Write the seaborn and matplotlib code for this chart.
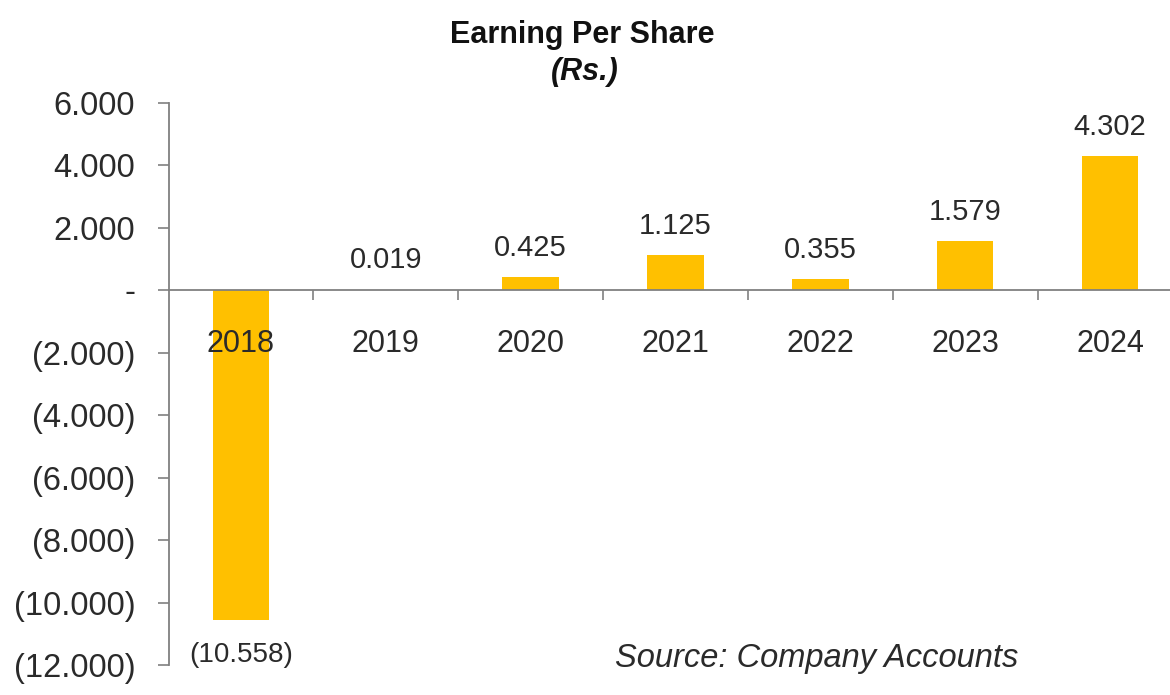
import matplotlib
matplotlib.use("Agg")
import matplotlib.pyplot as plt
import seaborn as sns
import pandas as pd
from matplotlib.ticker import FixedLocator, FuncFormatter

years = ["2018", "2019", "2020", "2021", "2022", "2023", "2024"]
eps = [-10.558, 0.019, 0.425, 1.125, 0.355, 1.579, 4.302]
yticks = [6, 4, 2, 0, -2, -4, -6, -8, -10, -12]

sns.set_theme(style="white")
plt.rcParams['font.family'] = ['Liberation Sans', 'DejaVu Sans']

df = pd.DataFrame({"year": years, "eps": eps})

fig = plt.figure(figsize=(11.7, 6.95), dpi=100)
ax = fig.add_axes([168.5/1170, 1-665/695, 1014/1170, (665-103)/695])

bar_color = "#FFC000"
sns.barplot(data=df, x="year", y="eps", color=bar_color, width=0.39,
            saturation=1, ax=ax, edgecolor="none")
ax.set_axisbelow(False)

ax.set_ylim(-12, 6)
ax.set_xlim(-0.5, 6.5)
ax.set_xlabel("")
ax.set_ylabel("")

def fmt(v, pos=None):
    if abs(v) < 1e-9:
        return "-"
    if v < 0:
        return f"({abs(v):.3f})"
    return f"{v:.3f}"

ax.yaxis.set_major_locator(FixedLocator(yticks))
ax.yaxis.set_major_formatter(FuncFormatter(fmt))

for s in ["top", "right"]:
    ax.spines[s].set_visible(False)
ax.spines["bottom"].set_position(("data", 0))
ax.spines["left"].set_color("#808080")
ax.spines["bottom"].set_color("#808080")
ax.spines["left"].set_linewidth(1.3)
ax.spines["bottom"].set_linewidth(1.3)

txt = "#2a2a2a"
ax.tick_params(axis="y", which="major", direction="out", length=8, width=1.2,
               color="#808080", labelsize=23.5, labelcolor=txt, pad=16, left=True)
ax.xaxis.set_minor_locator(FixedLocator([i + 0.5 for i in range(len(years) - 1)]))
ax.tick_params(axis="x", which="major", length=0, labelsize=22,
               labelcolor=txt, pad=28)
ax.tick_params(axis="x", which="minor", direction="out", length=7, width=1.2,
               color="#808080", bottom=True)

for i, v in enumerate(eps):
    if v >= 0:
        ax.annotate(fmt(v), (i, v), xytext=(0, 11), textcoords="offset points",
                    ha="center", va="bottom", fontsize=21, color=txt)
    else:
        ax.annotate(fmt(v), (i, v), xytext=(0, -16), textcoords="offset points",
                    ha="center", va="top", fontsize=20, color=txt)

fig.text(582/1170, 1-20/695, "Earning Per Share", ha="center", va="top",
         fontsize=22, fontweight="bold", color="#111111")
fig.text(585/1170, 1-57/695, "(Rs.)", ha="center", va="top",
         fontsize=22, fontweight="bold", fontstyle="italic", color="#111111")
fig.text(1018/1170, 1-658/695, "Source: Company Accounts", ha="right", va="center",
         fontsize=23.5, fontstyle="italic", color=txt)

fig.savefig("out.png", dpi=100, facecolor="white")
